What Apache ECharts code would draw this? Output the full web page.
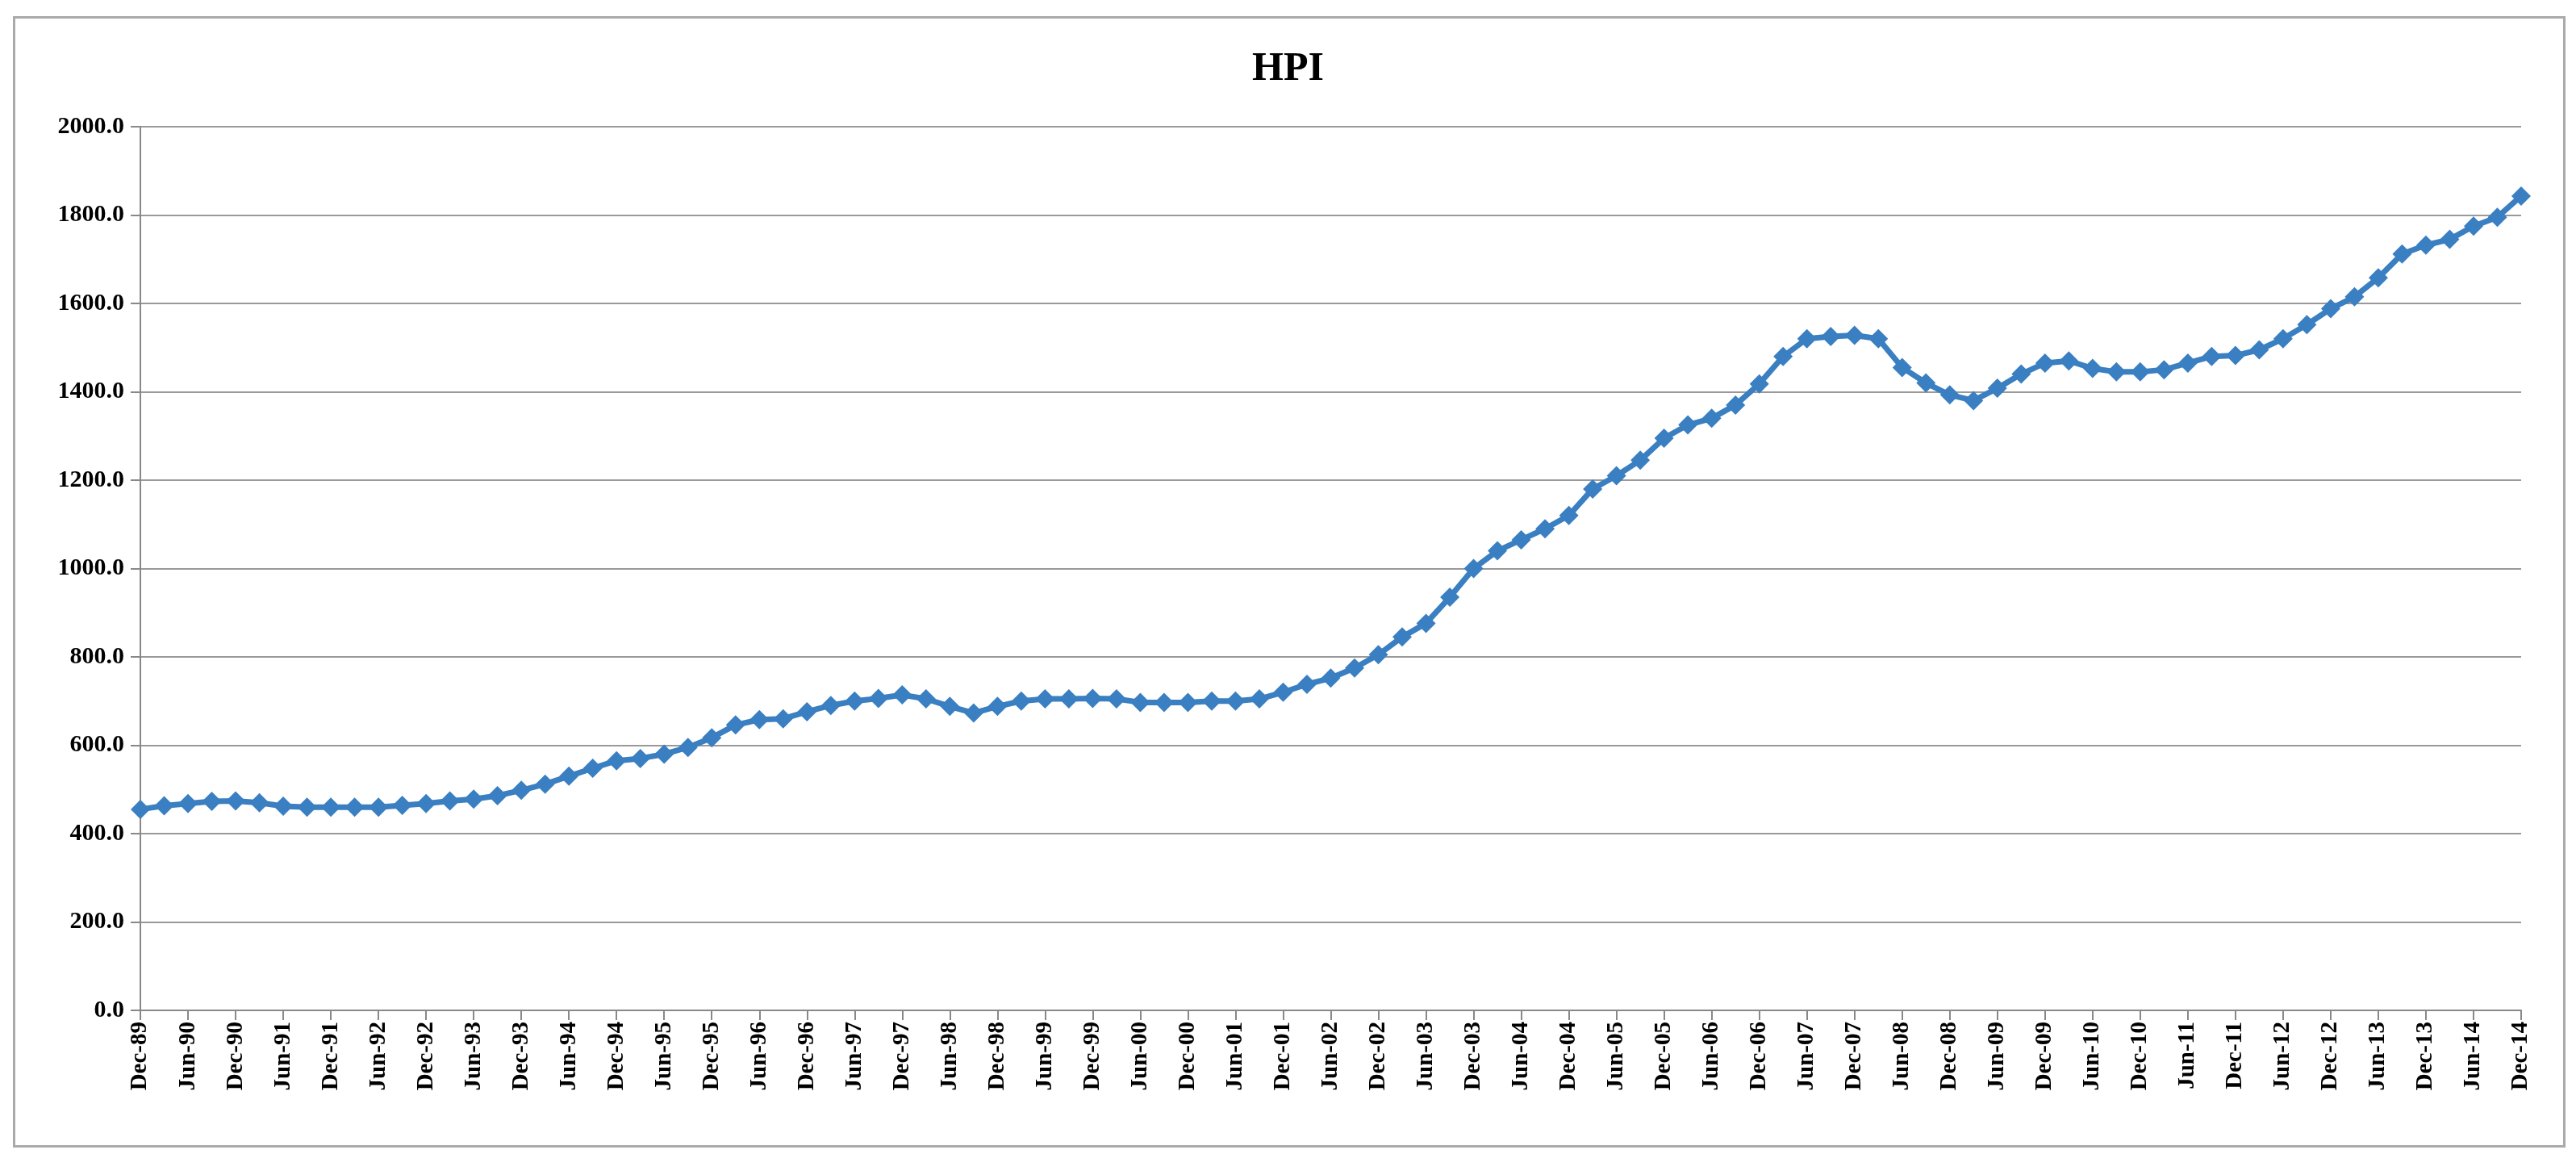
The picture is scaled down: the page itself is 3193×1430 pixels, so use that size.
<!DOCTYPE html>
<html>
<head>
  <meta charset="utf-8">
  <script src="https://cdn.jsdelivr.net/npm/echarts@6/dist/echarts.min.js"></script>
  <style>
    body { margin: 0; background: #fff; }
    #frame { position: absolute; left: 16px; top: 20px; width: 3164px; height: 1402px; border: 3px solid #aaa; box-sizing: border-box; }
    #chart { width: 3193px; height: 1430px; }
  </style>
</head>
<body>
  <div id="frame"></div>
  <div id="chart"></div>
  <script>
    // quarterly labels Dec-89 .. Dec-14
    var months = ['Mar', 'Jun', 'Sep', 'Dec'];
    var categories = ['Dec-89'];
    for (var y = 90; y <= 114; y++) {
      var yy = String(y % 100).padStart(2, '0');
      months.forEach(function (m) { categories.push(m + '-' + yy); });
    }
    var hpi89 = [455];
    var hpi90s = [
      463, 468, 473, 474,   // 1990
      470, 462, 460, 460,   // 1991
      460, 460, 464, 468,   // 1992
      474, 478, 486, 498,   // 1993
      512, 530, 548, 565,   // 1994
      570, 580, 595, 617,   // 1995
      646, 658, 660, 676,   // 1996
      690, 700, 706, 714,   // 1997
      705, 688, 673, 688,   // 1998
      700, 705, 705, 706    // 1999
    ];
    var hpi00s = [
      705, 697, 697, 697,   // 2000
      700, 700, 705, 720,   // 2001
      738, 752, 775, 805,   // 2002
      845, 876, 935, 1000,  // 2003
      1040, 1065, 1090, 1120, // 2004
      1180, 1210, 1245, 1295, // 2005
      1325, 1340, 1370, 1418, // 2006
      1480, 1520, 1525, 1528, // 2007
      1520, 1455, 1420, 1393, // 2008
      1380, 1408, 1440, 1465  // 2009
    ];
    var hpi10s = [
      1470, 1453, 1445, 1445, // 2010
      1450, 1465, 1480, 1482, // 2011
      1495, 1520, 1552, 1588, // 2012
      1615, 1658, 1712, 1732, // 2013
      1745, 1775, 1795, 1843  // 2014
    ];
    var values = hpi89.concat(hpi90s, hpi00s, hpi10s);

    var chart = echarts.init(document.getElementById('chart'));
    var font = '"Liberation Serif", "Times New Roman", serif';
    chart.setOption({
      animation: false,
      title: { text: 'HPI', left: 'center', top: 56,
        textStyle: { fontFamily: font, fontWeight: 'bold', fontSize: 50, color: '#000' } },
      grid: { left: 174, right: 3193 - 3125, top: 157, bottom: 1430 - 1252 },
      xAxis: {
        type: 'category', data: categories, boundaryGap: false,
        axisLine: { lineStyle: { color: '#888', width: 2 } },
        axisTick: { interval: 1, length: 12, lineStyle: { color: '#888', width: 2 } },
        axisLabel: { interval: 1, rotate: 90, margin: 14, fontFamily: font, fontWeight: 'bold', fontSize: 29, color: '#000' }
      },
      yAxis: {
        type: 'value', min: 0, max: 2000, interval: 200,
        axisLine: { show: true, lineStyle: { color: '#888', width: 2 } },
        axisTick: { show: true, length: 12, lineStyle: { color: '#888', width: 2 } },
        splitLine: { lineStyle: { color: '#999', width: 2 } },
        axisLabel: { margin: 20, fontFamily: font, fontWeight: 'bold', fontSize: 30, color: '#000',
          formatter: function (v) { return v.toFixed(1); } }
      },
      series: [{
        type: 'line', data: values,
        lineStyle: { color: '#3a7fc1', width: 7 },
        itemStyle: { color: '#3a7fc1' },
        symbol: 'diamond', symbolSize: 24, showAllSymbol: true
      }]
    });
  </script>
</body>
</html>
